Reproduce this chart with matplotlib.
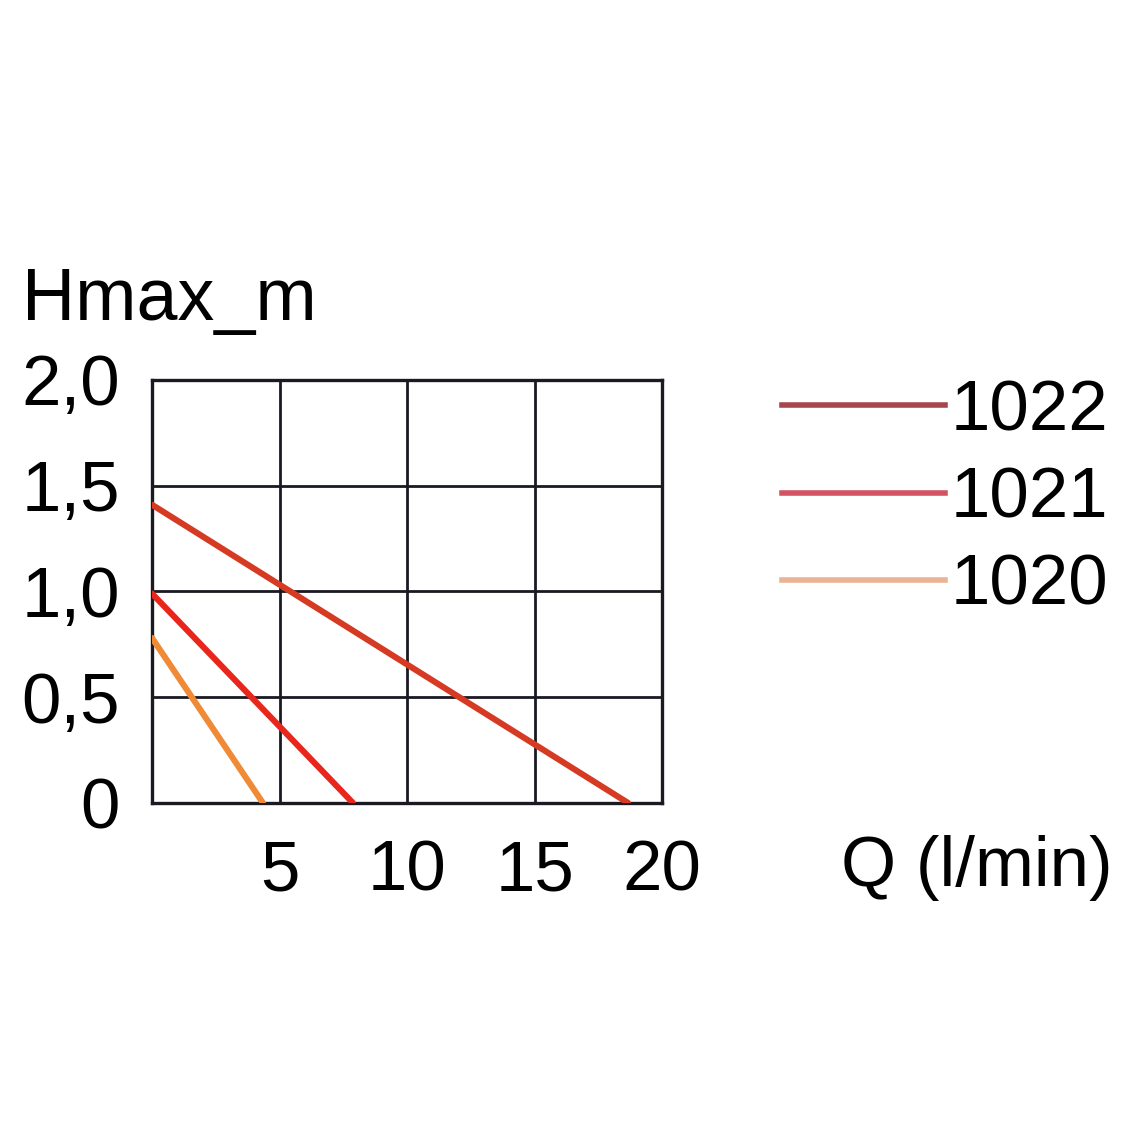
import matplotlib.pyplot as plt
from matplotlib.lines import Line2D

plt.rcParams['font.family'] = ['Liberation Sans', 'DejaVu Sans']

# pump curves: flow Q (l/min) vs max head (m)
models = ["1022", "1021", "1020"]
q_values = [[0, 18.67], [0, 7.88], [0, 4.35]]
h_values = [[1.41, 0], [0.99, 0], [0.78, 0]]
curve_colors = ["#d63a22", "#e8261c", "#f08a36"]
legend_colors = ["#a6464e", "#d25464", "#e8b494"]

x_ticks = [5, 10, 15, 20]
y_ticks = [0, 0.5, 1.0, 1.5, 2.0]
y_labels = ["0", "0,5", "1,0", "1,5", "2,0"]

fig = plt.figure(figsize=(11.42, 11.42), dpi=100)
ax = fig.add_axes([0.1331, 0.2969, 0.4466, 0.3704])

for q, h, c in zip(q_values, h_values, curve_colors):
    ax.plot(q, h, color=c, linewidth=4.4, solid_capstyle='round', zorder=3)

ax.set_xlim(0, 20)
ax.set_ylim(0, 2.0)
ax.set_xticks(x_ticks)
ax.set_xticklabels([str(t) for t in x_ticks])
ax.set_yticks(y_ticks)
ax.set_yticklabels(y_labels)
ax.tick_params(length=0, labelsize=51)
ax.tick_params(axis='y', pad=23)
ax.tick_params(axis='x', pad=26)
ax.grid(True, color='#1a1a22', linewidth=2.0)
for s in ax.spines.values():
    s.set_color('#1a1a22')
    s.set_linewidth(2.4)

fig.text(0.019, 0.737, "Hmax_m", fontsize=53, va='center', ha='left')
fig.text(0.974, 0.240, "Q (l/min)", fontsize=51, va='center', ha='right')

handles = [Line2D([0], [0], color=c, linewidth=4.0) for c in legend_colors]
fig.legend(handles, models, loc='upper left', bbox_to_anchor=(0.685, 0.668),
           frameon=False, fontsize=51, handlelength=2.3, handletextpad=0.08,
           labelspacing=0.3, borderaxespad=0, borderpad=0)

fig.savefig("out.png", dpi=100, facecolor='white')
